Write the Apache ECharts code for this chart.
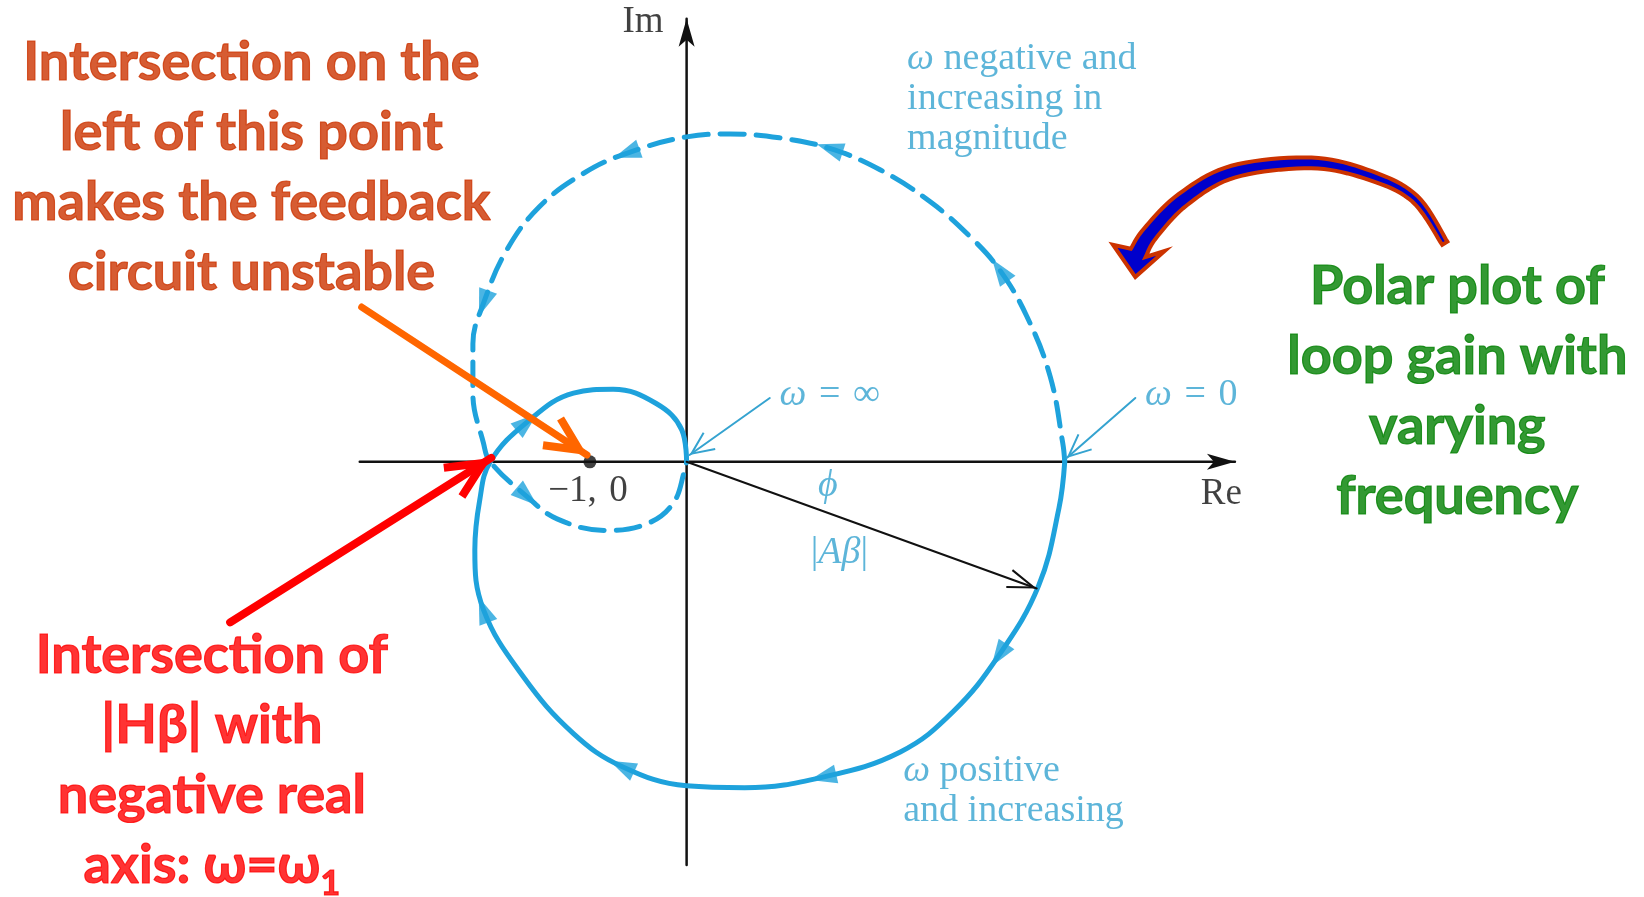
<!DOCTYPE html>
<html>
<head>
<meta charset="utf-8">
<title>Polar plot of loop gain</title>
<script src="https://cdn.jsdelivr.net/npm/echarts@6/dist/echarts.min.js"></script>
<style>
  html, body { margin: 0; padding: 0; background: #fff; }
  #chart { width: 1644px; height: 897px; }
</style>
</head>
<body>
<div id="chart"></div>
<script>
// loop gain A*beta, [Re, Im]
// omega positive and increasing (solid), from omega = 0 to omega = inf
var posOmega = [
  [3.91, 0], [3.85, -0.48], [3.64, -1.28], [3.23, -2.00], [2.76, -2.58], [2.21, -3.00],
  [1.41, -3.26], [0.60, -3.37], [0, -3.35], [-0.67, -3.15], [-1.17, -2.81], [-1.69, -2.22],
  [-2.10, -1.53], [-2.19, -0.91], [-2.14, -0.40], [-2.03, 0], [-1.65, 0.41], [-1.17, 0.71],
  [-0.76, 0.75], [-0.31, 0.60], [-0.05, 0.33], [0, 0]
];
// omega negative and increasing in magnitude (dashed)
var negOmega = [
  [3.91, 0], [3.89, 0.19], [3.76, 0.88], [3.52, 1.50], [3.24, 1.98], [2.94, 2.32],
  [2.53, 2.68], [2.00, 3.02], [1.48, 3.24], [0.96, 3.35], [0.45, 3.39], [0, 3.36],
  [-0.62, 3.19], [-1.07, 2.98], [-1.52, 2.64], [-1.86, 2.19], [-2.10, 1.64], [-2.21, 1.22],
  [-2.21, 0.71], [-2.10, 0.19], [-2.03, 0], [-1.65, -0.36], [-1.34, -0.59], [-0.83, -0.71],
  [-0.41, -0.64], [-0.14, -0.43], [-0.02, -0.09], [0, 0]
];
// where the direction arrows sit on each curve (indices)
var posArrowIdx = [3, 6, 9, 12, 16];
var negArrowIdx = [4, 8, 12, 16, 21];

var reAxis = [[-3.38, 0], [5.67, 0]];
var imAxis = [[0, -4.17], [0, 4.58]];
var criticalPoint = [-1, 0];
var abVector = [[0, 0], [3.62, -1.31]];
var infPointer = [[0.86, 0.66], [0.03, 0.07]];
var zeroPointer = [[4.64, 0.66], [3.93, 0.04]];
var orangeArrow = [[-3.36, 1.60], [-1.03, 0.07]];
var redArrow = [[-4.72, -1.66], [-2.02, 0.04]];
var curvedArrow = [[7.84, 2.26], [7.53, 2.72], [7.07, 2.96], [6.46, 3.09], [5.65, 3.00],
  [5.13, 2.71], [4.79, 2.36], [4.67, 2.16]];
var curvedArrowTip = [4.64, 1.91];

// text
var blackLabels = [
  { pos: [-0.45, 4.54], text: 'Im' },
  { pos: [5.53, -0.34], text: 'Re' },
  { pos: [-1.02, -0.31], text: '\u22121,\u20040' }
];
var blueLabels = [
  { pos: [2.28, 3.75], text: '{i|ω} negative and\nincreasing in\nmagnitude', align: 'left' },
  { pos: [2.24, -3.40], text: '{i|ω} positive\nand increasing', align: 'left' },
  { pos: [0.96, 0.69], text: '{i|ω}\u2004=\u2004∞', align: 'left' },
  { pos: [4.74, 0.69], text: '{i|ω}\u2004=\u20040', align: 'left' },
  { pos: [1.46, -0.25], text: '{i|\u03d5}', align: 'center' },
  { pos: [1.58, -0.94], text: '|{i|Aβ}|', align: 'center' }
];
var noteUnstable = { pos: [-4.50, 3.04], text: 'Intersection on the\nleft of this point\nmakes the feedback\ncircuit unstable' };
var noteOmega1 = { pos: [-4.91, -3.09], text: 'Intersection of\n|Hβ| with\nnegative real\naxis: ω=ω{sub|1}' };
var notePolar = { pos: [7.97, 0.73], text: 'Polar plot of\nloop gain with\nvarying\nfrequency' };

var xMin = -7.1, xMax = 9.9, yMin = -4.5, yMax = 4.775;

var CURVE = '#1ea2dc';
var LABEL_BLUE = '#35a3d0';

function rot(a, b) {
  return Math.atan2(b[1] - a[1], b[0] - a[0]) * 180 / Math.PI - 90;
}
// direction triangles along the curves
function curveHeads(pts, idx) {
  return idx.map(function (i) {
    return { value: pts[i], symbolRotate: rot(pts[i - 1], pts[i + 1]) };
  });
}
// [tipX, tipY, fromX, fromY] for the head at the end of a segment
function headRow(pts) {
  var a = pts[pts.length - 2], b = pts[pts.length - 1];
  return [b[0], b[1], a[0], a[1]];
}
function lineSeries(pts, color, width, type, smooth, z) {
  return {
    type: 'line', data: pts, showSymbol: false, symbol: 'none', smooth: smooth || false,
    lineStyle: { color: color, width: width, type: type || 'solid', cap: 'round' },
    silent: true, z: z || 2
  };
}
// arrow heads drawn in pixels from the axis mapping of tip and direction
function headSeries(rows, k, z) {
  return {
    type: 'custom', data: rows, silent: true, z: z || 3,
    encode: { x: [0, 2], y: [1, 3] },
    renderItem: function (params, api) {
      var t = api.coord([api.value(0), api.value(1)]);
      var f = api.coord([api.value(2), api.value(3)]);
      var dx = t[0] - f[0], dy = t[1] - f[1];
      var len = Math.sqrt(dx * dx + dy * dy);
      dx /= len; dy /= len;
      var nx = -dy, ny = dx;
      if (k.open) {
        // pull the tip back so the mitred corner lands on the target
        var back = k.width / 2 * Math.sqrt(k.len * k.len + k.half * k.half) / k.half;
        t = [t[0] - dx * back, t[1] - dy * back];
      }
      var b1 = [t[0] - dx * k.len + nx * k.half, t[1] - dy * k.len + ny * k.half];
      var b2 = [t[0] - dx * k.len - nx * k.half, t[1] - dy * k.len - ny * k.half];
      if (k.open) {
        return {
          type: 'polyline', shape: { points: [b1, t, b2] },
          style: { stroke: k.color, lineWidth: k.width, fill: null, lineJoin: 'miter', lineCap: 'butt' }
        };
      }
      var notch = [t[0] - dx * k.len * k.notch, t[1] - dy * k.len * k.notch];
      return {
        type: 'polygon', shape: { points: [t, b1, notch, b2] },
        style: { fill: k.color, lineWidth: 0 }
      };
    }
  };
}
// catmull-rom through pixel points
function catmull(p, steps) {
  var out = [];
  for (var i = 0; i < p.length - 1; i++) {
    var p0 = p[Math.max(i - 1, 0)], p1 = p[i], p2 = p[i + 1], p3 = p[Math.min(i + 2, p.length - 1)];
    for (var s = 0; s < steps; s++) {
      var t = s / steps, t2 = t * t, t3 = t2 * t;
      out.push([0, 1].map(function (j) {
        return 0.5 * (2 * p1[j] + (-p0[j] + p2[j]) * t + (2 * p0[j] - 5 * p1[j] + 4 * p2[j] - p3[j]) * t2 +
          (-p0[j] + 3 * p1[j] - 3 * p2[j] + p3[j]) * t3);
      }));
    }
  }
  out.push(p[p.length - 1]);
  return out;
}
// the tapered curved callout arrow, one outlined shape
function curvedArrowSeries() {
  return {
    type: 'custom', silent: true, z: 7, data: [curvedArrowTip].concat(curvedArrow),
    encode: { x: 0, y: 1 },
    renderItem: function (params, api) {
      if (params.dataIndex !== 0) return null;
      var pts = catmull(curvedArrow.map(function (p) { return api.coord(p); }), 10);
      var tip = api.coord(curvedArrowTip);
      var n = pts.length, left = [], right = [];
      for (var i = 0; i < n; i++) {
        var a = pts[Math.max(i - 1, 0)], b = pts[Math.min(i + 1, n - 1)];
        var dx = b[0] - a[0], dy = b[1] - a[1], l = Math.sqrt(dx * dx + dy * dy);
        var w = (6 + 11 * i / (n - 1)) / 2;
        left.push([pts[i][0] - dy / l * w, pts[i][1] + dx / l * w]);
        right.push([pts[i][0] + dy / l * w, pts[i][1] - dx / l * w]);
      }
      var e = pts[n - 1];
      var hx = tip[0] - e[0], hy = tip[1] - e[1], hl = Math.sqrt(hx * hx + hy * hy);
      hx /= hl; hy /= hl;
      var c1 = [e[0] - hy * 26 - hx * 5, e[1] + hx * 26 - hy * 5];
      var c2 = [e[0] + hy * 26 - hx * 5, e[1] - hx * 26 - hy * 5];
      var shape = left.concat([c1, tip, c2]).concat(right.reverse());
      return {
        type: 'polygon', shape: { points: shape },
        style: { fill: '#0000cc', stroke: '#cc3300', lineWidth: 4, lineJoin: 'miter' }
      };
    }
  };
}
function textSeries(items, style, z) {
  return {
    type: 'scatter', silent: true, z: z || 4, symbolSize: 1,
    itemStyle: { color: 'rgba(0,0,0,0)' },
    data: items.map(function (t) {
      return {
        value: t.pos,
        label: Object.assign({
          show: true, position: 'inside', formatter: t.text,
          align: t.align || 'center', verticalAlign: 'middle'
        }, style)
      };
    })
  };
}

var serifBlue = {
  color: LABEL_BLUE, fontFamily: 'Liberation Serif', fontSize: 38, lineHeight: 40,
  rich: { i: { fontStyle: 'italic', color: LABEL_BLUE, fontFamily: 'Liberation Serif', fontSize: 38, lineHeight: 40 } }
};
var serifBlack = { color: '#111', fontFamily: 'Liberation Serif', fontSize: 37 };
function noteStyle(color) {
  return {
    color: color, fontFamily: 'Lato', fontWeight: 'bold', fontSize: 54, lineHeight: 70,
    textBorderColor: color, textBorderWidth: 1.2,
    rich: {
      sub: {
        color: color, fontFamily: 'Lato', fontWeight: 'bold', fontSize: 34, lineHeight: 34,
        verticalAlign: 'bottom', textBorderColor: color, textBorderWidth: 1.2
      }
    }
  };
}

var myChart = echarts.init(document.getElementById('chart'));
myChart.setOption({
  animation: false,
  backgroundColor: '#fff',
  grid: { left: 0, right: 0, top: 0, bottom: 0 },
  xAxis: { type: 'value', min: xMin, max: xMax, show: false },
  yAxis: { type: 'value', min: yMin, max: yMax, show: false },
  series: [
    // axes
    lineSeries(reAxis, '#111', 2.5),
    lineSeries(imAxis, '#111', 2.5),
    headSeries([headRow(reAxis), headRow(imAxis)], { len: 28, half: 8, notch: 0.75, color: '#111' }),
    // loop gain curves
    lineSeries(negOmega, CURVE, 5, [24, 12], 0.4),
    lineSeries(posOmega, CURVE, 5, 'solid', 0.4),
    {
      type: 'scatter', silent: true, z: 3, symbol: 'triangle', symbolSize: [19, 27],
      itemStyle: { color: CURVE },
      data: curveHeads(negOmega, negArrowIdx).concat(curveHeads(posOmega, posArrowIdx))
    },
    // |A beta| vector and the omega pointers
    lineSeries(abVector, '#111', 2),
    headSeries([headRow(abVector)], { open: true, len: 26, half: 9, width: 2, color: '#111' }),
    lineSeries(infPointer, LABEL_BLUE, 2),
    lineSeries(zeroPointer, LABEL_BLUE, 2),
    headSeries([headRow(infPointer), headRow(zeroPointer)], { open: true, len: 22, half: 10, width: 2, color: LABEL_BLUE }),
    {
      type: 'scatter', silent: true, z: 3, symbol: 'circle', symbolSize: 13,
      itemStyle: { color: '#111' }, data: [criticalPoint]
    },
    // labels
    textSeries(blackLabels, serifBlack),
    textSeries(blueLabels, serifBlue),
    textSeries([noteUnstable], noteStyle('#cc3300')),
    textSeries([noteOmega1], noteStyle('#ff0000')),
    textSeries([notePolar], noteStyle('#008000')),
    // callout arrows
    lineSeries(orangeArrow, '#ff6600', 7, 'solid', false, 5),
    headSeries([headRow(orangeArrow)], { open: true, len: 33, half: 16, width: 8, color: '#ff6600' }, 6),
    lineSeries(redArrow, '#ff0000', 8, 'solid', false, 5),
    headSeries([headRow(redArrow)], { open: true, len: 36, half: 17, width: 8, color: '#ff0000' }, 6),
    curvedArrowSeries()
  ]
});
</script>
</body>
</html>
